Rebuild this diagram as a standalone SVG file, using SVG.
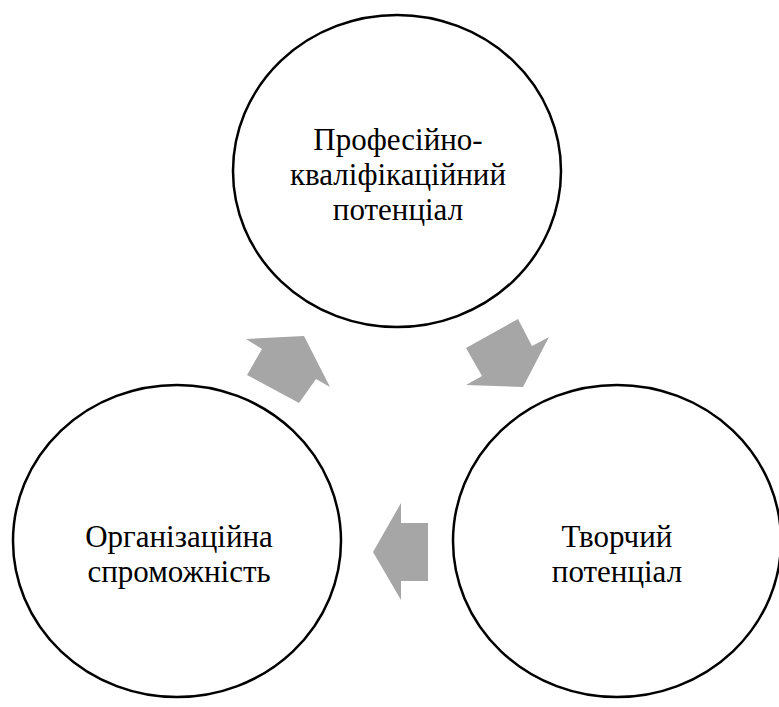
<svg xmlns="http://www.w3.org/2000/svg" width="779" height="707" viewBox="0 0 779 707">
<style>
.node ellipse{fill:#fff;stroke:#000;stroke-width:2.5}
.node text{font-family:"Liberation Serif","Times New Roman",serif;font-size:31px;fill:#000;text-anchor:middle}
.arrow{fill:#a6a6a6;stroke:none}
</style>
<rect width="779" height="707" fill="#fff"/>
<g id="node-prof" class="node">
<ellipse cx="397" cy="171" rx="164" ry="156"/>
<text x="398" y="150">Професійно-</text>
<text x="398" y="185">кваліфікаційний</text>
<text x="398" y="220">потенціал</text>
</g>
<g id="node-org" class="node">
<ellipse cx="177" cy="541" rx="164" ry="156"/>
<text x="179" y="547">Організаційна</text>
<text x="179" y="582">спроможність</text>
</g>
<g id="node-tvor" class="node">
<ellipse cx="617" cy="541" rx="164" ry="156"/>
<text x="617" y="547">Творчий</text>
<text x="617" y="582">потенціал</text>
</g>
<g id="connectors">
<polygon class="arrow" points="246,339 304,336 330,387 316,379 299,403 247,375 262,349"/>
<polygon class="arrow" points="466,348 518,319 532,346 549,337 523,387 466,385 482,376"/>
<polygon class="arrow" points="401,503 401,523 428,523 428,581 401,581 401,600 373,552"/>
</g>
</svg>
